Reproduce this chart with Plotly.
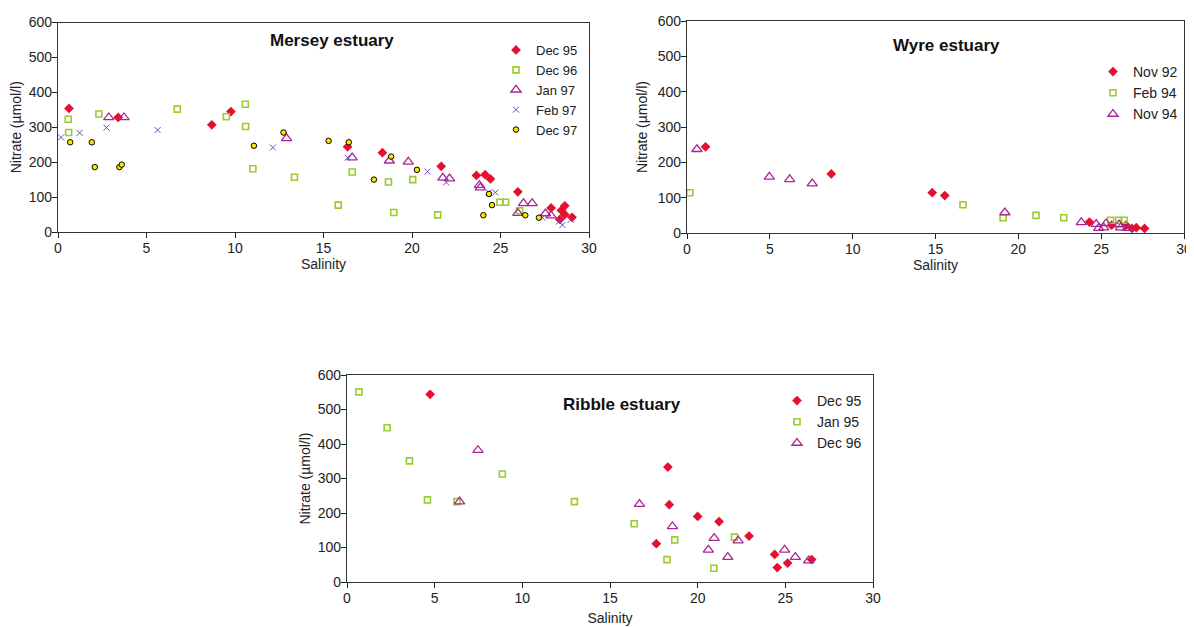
import plotly.graph_objects as go

# the page shows the figure with an 8 px body margin; screen coords are shifted by OFF
OFF = 8
W, H = 1194 - OFF, 627 - OFF

# ---------------- Mersey estuary ----------------
mersey_dec95_sal = [0.62, 3.4, 8.69, 9.77, 16.36, 18.33, 21.65, 23.64, 24.13, 24.43, 25.98, 27.86, 28.44, 28.63, 28.63, 29.04, 28.35]
mersey_dec95_no3 = [354, 328, 307, 345, 244, 227, 188, 162, 164, 152, 115, 69, 62, 75, 50, 42, 36]
mersey_dec96_sal = [0.58, 0.6, 2.31, 6.74, 9.51, 10.58, 10.6, 11.01, 13.36, 15.83, 16.62, 18.67, 18.97, 20.04, 21.45, 24.97, 25.29, 26.08]
mersey_dec96_no3 = [323, 285, 338, 352, 330, 366, 302, 181, 157, 77, 172, 143, 56, 150, 49, 85, 85, 61]
mersey_jan97_sal = [2.87, 3.73, 12.91, 16.62, 18.72, 19.79, 21.74, 22.12, 23.81, 23.86, 26.3, 26.79, 25.98, 27.54, 27.86]
mersey_jan97_no3 = [328, 328, 268, 213, 204, 201, 155, 153, 134, 127, 82, 82, 54, 53, 47]
mersey_feb97_sal = [0.17, 1.22, 2.74, 5.63, 12.14, 16.36, 20.88, 21.93, 24.33, 24.71, 27.37, 28.31, 28.5, 28.97]
mersey_feb97_no3 = [271, 284, 299, 292, 242, 213, 173, 142, 113, 113, 41, 30, 20, 35]
mersey_dec97_sal = [0.69, 1.91, 2.08, 3.47, 3.6, 11.07, 12.74, 15.29, 16.43, 17.85, 18.82, 20.28, 24.35, 24.52, 24.03, 26.4, 27.17]
mersey_dec97_no3 = [257, 257, 186, 186, 193, 247, 285, 261, 257, 150, 216, 178, 109, 77, 48, 48, 41]

# ---------------- Wyre estuary ----------------
wyre_nov92_sal = [1.12, 8.71, 14.8, 15.56, 24.29, 25.63, 26.5, 26.86, 27.12, 27.62]
wyre_nov92_no3 = [244, 167, 114, 106, 31, 22, 22, 13, 15, 13]
wyre_feb94_sal = [0.17, 16.66, 19.08, 21.07, 22.74, 25.57, 26.06, 26.39]
wyre_feb94_no3 = [114, 80, 43, 50, 43, 36, 36, 36]
wyre_nov94_sal = [0.6, 4.97, 6.2, 7.56, 19.19, 23.8, 24.7, 24.85, 25.3, 25.16, 26.08, 26.17, 26.58]
wyre_nov94_no3 = [237, 159, 152, 140, 58, 30, 25, 14, 27, 15, 24, 15, 14]

# ---------------- Ribble estuary ----------------
ribble_dec95_sal = [4.74, 18.3, 18.38, 17.64, 20.0, 21.22, 22.93, 24.39, 24.54, 25.13, 26.5]
ribble_dec95_no3 = [544, 333, 224, 111, 190, 175, 133, 80, 42, 55, 65]
ribble_jan95_sal = [0.68, 2.29, 3.56, 4.59, 6.27, 8.86, 12.97, 16.38, 18.69, 18.25, 20.92, 22.1]
ribble_jan95_no3 = [551, 447, 351, 238, 233, 313, 233, 169, 122, 65, 40, 130]
ribble_dec96_sal = [6.42, 7.47, 16.68, 18.56, 20.94, 20.61, 21.72, 22.31, 24.96, 25.57, 26.33]
ribble_dec96_no3 = [233, 382, 226, 161, 127, 93, 72, 120, 93, 72, 62]

x_ticks = [0, 5, 10, 15, 20, 25, 30]
y_ticks = [0, 100, 200, 300, 400, 500, 600]

FONT = "Liberation Sans, Arial, sans-serif"
RED = "#E5102E"
GREEN = "#9BCB2E"
MAGENTA = "#A92694"
PURPLE = "#6C4FB8"
YELLOW = "#F7E600"

sty = {
    "diamond": dict(symbol="diamond", size=7.5, color=RED, line=dict(width=0)),
    "square": dict(symbol="square-open", size=6, color=GREEN, line=dict(width=1.6, color=GREEN)),
    "triangle": dict(symbol="triangle-up-open", size=9, color=MAGENTA, line=dict(width=1.3, color=MAGENTA)),
    "x": dict(symbol="x-thin-open", size=6, color=PURPLE, line=dict(width=1, color=PURPLE)),
    "circle": dict(symbol="circle", size=5.5, color=YELLOW, line=dict(width=1, color="black")),
}

fig = go.Figure()

def add(xs, ys, name, kind, ax, leg):
    fig.add_trace(go.Scatter(x=xs, y=ys, mode="markers", name=name,
                             marker=sty[kind], xaxis="x" + ax, yaxis="y" + ax,
                             legend=leg))

add(mersey_dec95_sal, mersey_dec95_no3, "Dec 95", "diamond", "", "legend")
add(mersey_dec96_sal, mersey_dec96_no3, "Dec 96", "square", "", "legend")
add(mersey_jan97_sal, mersey_jan97_no3, "Jan 97", "triangle", "", "legend")
add(mersey_feb97_sal, mersey_feb97_no3, "Feb 97", "x", "", "legend")
add(mersey_dec97_sal, mersey_dec97_no3, "Dec 97", "circle", "", "legend")

add(wyre_nov92_sal, wyre_nov92_no3, "Nov 92", "diamond", "2", "legend2")
add(wyre_feb94_sal, wyre_feb94_no3, "Feb 94", "square", "2", "legend2")
add(wyre_nov94_sal, wyre_nov94_no3, "Nov 94", "triangle", "2", "legend2")

add(ribble_dec95_sal, ribble_dec95_no3, "Dec 95", "diamond", "3", "legend3")
add(ribble_jan95_sal, ribble_jan95_no3, "Jan 95", "square", "3", "legend3")
add(ribble_dec96_sal, ribble_dec96_no3, "Dec 96", "triangle", "3", "legend3")

def px_x(p):
    return (p - OFF) / W

def px_y(p):
    return 1 - (p - OFF) / H

def xaxis(domain, anchor, standoff):
    return dict(domain=domain, anchor=anchor, range=[0, 30], tickvals=x_ticks,
                automargin=False, ticklabeloverflow="allow",
                ticks="outside", ticklen=5, tickcolor="#222", showgrid=False,
                zeroline=False, showline=True, linecolor="#333", linewidth=1.2,
                mirror=True, tickfont=dict(family=FONT, size=14, color="#222"),
                ticklabelstandoff=-2,
                title=dict(text="Salinity", font=dict(family=FONT, size=14, color="#222"),
                           standoff=standoff))

def yaxis(domain, anchor, standoff):
    return dict(domain=domain, anchor=anchor, range=[0, 600], tickvals=y_ticks,
                automargin=False, ticklabeloverflow="allow",
                ticks="outside", ticklen=5, tickcolor="#222", showgrid=False,
                zeroline=False, showline=True, linecolor="#333", linewidth=1.2,
                mirror=True, tickfont=dict(family=FONT, size=14, color="#222"),
                ticklabelstandoff=-3,
                title=dict(text="Nitrate (\u00b5mol/l)", font=dict(family=FONT, size=14, color="#222"),
                           standoff=standoff))

# panel geometry (screen pixels)
m_x = [px_x(58), px_x(589)]; m_y = [px_y(232), px_y(22.5)]
w_x = [px_x(687), px_x(1184)]; w_y = [px_y(233), px_y(21)]
r_x = [px_x(347), px_x(873)]; r_y = [px_y(582), px_y(375)]

leg_common = dict(bgcolor="rgba(0,0,0,0)",
                  borderwidth=0, xanchor="left", yanchor="top", tracegroupgap=0)

def title_ann(text, x, y):
    return dict(text="<b>" + text + "</b>", x=px_x(x), y=px_y(y), xref="paper", yref="paper",
                xanchor="center", yanchor="middle", showarrow=False,
                font=dict(family=FONT, size=17, color="#111"))

fig.update_layout(
    width=W, height=H,
    margin=dict(l=0, r=0, t=0, b=0),
    paper_bgcolor="white", plot_bgcolor="white",
    font=dict(family=FONT, size=14, color="#222"),
    xaxis=xaxis(m_x, "y", 2),
    yaxis=yaxis(m_y, "x", 8),
    xaxis2=xaxis(w_x, "y2", 2),
    yaxis2=yaxis(w_y, "x2", 6),
    xaxis3=xaxis(r_x, "y3", 8),
    yaxis3=yaxis(r_y, "x3", 3),
    legend=dict(x=px_x(496), y=px_y(35), font=dict(family=FONT, size=13, color="#222"), **leg_common),
    legend2=dict(x=px_x(1093), y=px_y(56), font=dict(family=FONT, size=14, color="#222"), **leg_common),
    legend3=dict(x=px_x(777), y=px_y(385), font=dict(family=FONT, size=14, color="#222"), **leg_common),
    annotations=[
        title_ann("Mersey estuary", 332, 40),
        title_ann("Wyre estuary", 946, 45),
        title_ann("Ribble estuary", 622, 404),
    ],
)

fig.write_html("out.html")
